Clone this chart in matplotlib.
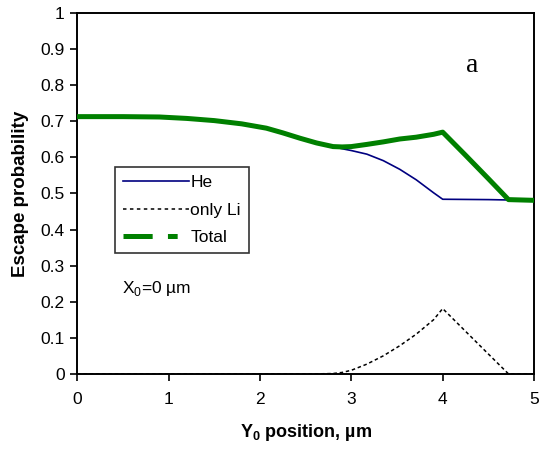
import matplotlib
matplotlib.use("Agg")
import matplotlib.pyplot as plt
from matplotlib.lines import Line2D

plt.rcParams['font.family'] = ['Liberation Sans', 'DejaVu Sans']
plt.rcParams['mathtext.fontset'] = 'custom'
plt.rcParams['mathtext.rm'] = 'Liberation Sans'
plt.rcParams['mathtext.bf'] = 'Liberation Sans:bold'
plt.rcParams['lines.scale_dashes'] = False

# Data
y0 = [0, 0.5, 0.9, 1.2, 1.5, 1.8, 2.07, 2.25, 2.44, 2.62, 2.8, 2.9, 3.0,
      3.17, 3.35, 3.53, 3.71, 3.9, 4.0, 4.25, 4.5, 4.72, 5]
he = [0.713, 0.713, 0.712, 0.708, 0.702, 0.693, 0.681, 0.668, 0.653, 0.640,
      0.630, 0.624, 0.619, 0.609, 0.591, 0.567, 0.538, 0.502, 0.484, 0.4835,
      0.483, 0.482, 0.481]
only_li = [0, 0, 0, 0, 0, 0, 0, 0, 0, 0, 0.001, 0.004, 0.010,
           0.027, 0.050, 0.078, 0.110, 0.150, 0.181, 0.118, 0.055, 0.0, 0.0]
total = [0.713, 0.713, 0.712, 0.708, 0.702, 0.693, 0.681, 0.668, 0.653, 0.640,
         0.630, 0.629, 0.630, 0.636, 0.643, 0.651, 0.656, 0.664, 0.670, 0.606,
         0.541, 0.483, 0.481]
x_ticks = [0, 1, 2, 3, 4, 5]
y_ticks = [0, 0.1, 0.2, 0.3, 0.4, 0.5, 0.6, 0.7, 0.8, 0.9, 1]
y_ticklabels = ['0', '0.1', '0.2', '0.3', '0.4', '0.5', '0.6', '0.7', '0.8', '0.9', '1']

fig = plt.figure(figsize=(5.40, 4.51), dpi=100)
ax = fig.add_axes([0.143, 0.171, 0.846, 0.80])

navy = '#000080'
green = '#008000'

ax.plot(y0, he, color=navy, lw=1.2, zorder=3)
ax.plot(y0, only_li, color='black', lw=1.1, linestyle=(0, (2.5, 2.0)), zorder=3)
ax.plot(y0, total, color=green, lw=3.6, zorder=4, solid_joinstyle='round')

ax.set_xlim(0, 5)
ax.set_ylim(0, 1)
ax.set_xticks(x_ticks)
ax.set_xticklabels([str(t) for t in x_ticks])
ax.set_yticks(y_ticks)
ax.set_yticklabels(y_ticklabels)
ax.tick_params(direction='out', length=5, width=1.2, labelsize=12.5, colors='black', pad=4)
ax.tick_params(axis='x', pad=8)
for s in ax.spines.values():
    s.set_linewidth(1.4)
    s.set_color('black')

ax.set_xlabel(r'Y$_\mathbf{0}$ position, µm', fontsize=13, fontweight='bold', labelpad=11)
ax.set_ylabel('Escape probability', fontsize=13.5, fontweight='bold', labelpad=8)

handles = [
    Line2D([], [], color=navy, lw=1.2),
    Line2D([], [], color='black', lw=1.1, linestyle=(0, (2.5, 2.5))),
    Line2D([], [], color=green, lw=3.6, linestyle=(0, (21, 11, 7, 10))),
]
leg = ax.legend(handles, ['He', 'only Li', 'Total'], loc='upper left',
                bbox_to_anchor=(0.0826, 0.573), borderaxespad=0, fontsize=12.5,
                fancybox=False, frameon=True, handlelength=3.8, handletextpad=0.1,
                labelspacing=0.72, borderpad=0.45)
leg.get_frame().set_edgecolor('black')
leg.get_frame().set_linewidth(1.2)

ax.text(0.49, 0.236, r'X$_0$=0 µm', fontsize=12.5, ha='left', va='center')
ax.text(4.32, 0.855, 'a', fontsize=20, family='Liberation Serif', ha='center', va='center')

fig.savefig('out.png', dpi=100)
